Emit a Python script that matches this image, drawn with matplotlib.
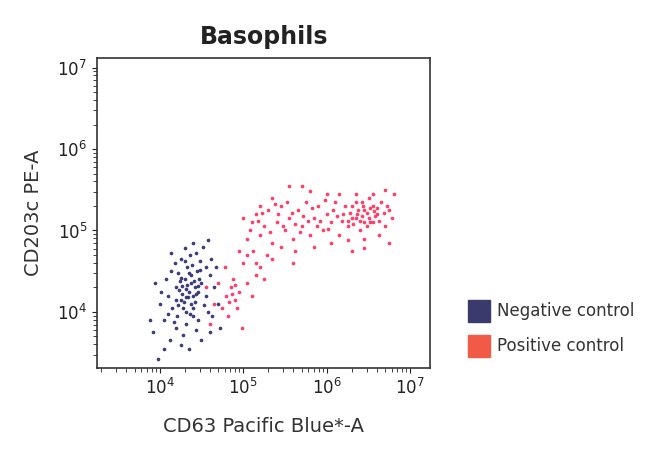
import numpy as np
import matplotlib
matplotlib.use("Agg")
import matplotlib.pyplot as plt
from matplotlib.patches import Rectangle

# log10 values (x = CD63, y = CD203c)
neg_log = [
(4.35,4.25),(4.30,4.40),(4.42,4.30),(4.25,4.15),(4.38,4.10),(4.50,4.35),(4.20,4.30),(4.45,4.50),(4.33,4.55),(4.28,4.05),
(4.40,3.95),(4.15,4.05),(4.10,4.20),(4.55,4.20),(4.60,4.45),(4.48,4.62),(4.36,4.70),(4.22,4.48),(4.18,4.60),(4.30,4.78),
(4.52,4.80),(4.62,4.65),(4.65,4.30),(4.70,4.10),(4.58,4.00),(4.46,3.90),(4.32,3.85),(4.20,3.80),(4.05,3.90),(4.00,4.10),
(3.95,4.35),(4.08,4.40),(4.12,3.65),(4.25,3.60),(4.35,3.55),(4.05,3.55),(3.92,3.75),(4.50,3.65),(4.60,3.75),(3.98,3.42),
(4.40,4.20),(4.42,4.12),(4.27,4.22),(4.33,4.33),(4.37,4.45),(4.24,4.38),(4.47,4.40),(4.31,4.00),(4.39,4.58),(4.26,4.65),
(4.44,4.72),(4.56,4.55),(4.14,4.50),(4.10,3.98),(4.53,4.08),(4.29,4.12),(4.34,4.18),(4.41,4.38),(4.21,3.95),(4.17,3.88),
(4.63,3.95),(4.68,4.55),(4.72,3.80),(3.88,3.90),(4.02,4.25),(4.46,4.25),(4.23,4.27),(4.36,3.98),(4.19,4.15),(4.48,4.52),
(4.30,4.62),(4.14,4.72),(4.58,4.88),(4.40,4.85),(4.28,3.72),(4.44,3.78),
(4.32,4.28),(4.38,4.36),(4.27,4.32),(4.43,4.22),(4.35,4.48),(4.25,4.42),(4.31,4.18),(4.40,4.05),(4.22,4.08),(4.46,4.32),
]
pos_log = [
(4.80,4.20),(4.85,4.30),(4.90,4.15),(4.75,4.05),(4.88,4.40),(4.95,4.25),(4.70,4.35),(4.82,3.95),(4.65,4.10),(4.92,4.05),
(5.05,4.35),(5.10,4.20),(5.15,4.45),(4.78,4.55),(4.60,3.85),(4.55,4.30),(4.98,3.80),(5.20,4.55),(5.25,4.40),(5.00,4.60),
(5.05,4.90),(5.10,5.10),(5.15,5.20),(5.20,4.95),(5.25,5.05),(5.30,5.25),(5.35,4.85),(5.40,5.10),(5.45,5.30),(5.50,5.00),
(5.55,5.15),(5.60,4.90),(5.65,5.25),(5.70,5.05),(5.75,5.35),(5.80,4.95),(5.85,5.15),(5.90,5.30),(5.95,5.00),(6.00,5.20),
(6.05,5.10),(6.10,5.35),(6.15,4.95),(6.20,5.20),(6.25,5.05),(6.30,5.30),(6.35,5.15),(6.40,5.00),(6.45,5.25),(6.50,5.40),
(6.55,5.10),(6.60,5.20),(6.65,5.35),(6.70,5.05),(6.75,5.25),(6.80,5.45),(6.70,5.50),(6.55,5.45),(6.35,5.45),(6.15,5.45),
(5.80,5.48),(5.55,5.55),(5.35,5.40),(5.20,5.30),(5.00,5.15),(5.12,4.75),(5.28,4.70),(5.45,4.80),(5.62,4.75),(5.85,4.80),
(6.05,4.85),(6.25,4.88),(6.45,4.90),(6.62,4.95),(5.08,5.00),(5.18,5.12),(5.32,4.98),(5.42,5.20),(5.52,5.35),(5.62,5.08),
(5.72,5.18),(5.82,5.28),(5.92,5.12),(6.02,5.02),(6.12,5.18),(6.22,5.30),(6.32,5.08),(6.42,5.18),(6.52,5.28),(6.62,5.12),
(6.72,5.30),(6.42,5.35),(6.28,5.22),(6.18,5.12),(6.08,5.25),(5.98,5.38),(5.88,5.05),(5.78,5.12),(5.68,4.98),(5.58,5.22),
(5.48,5.05),(5.38,5.32),(5.22,5.22),(6.48,5.05),(6.38,5.25),(6.58,5.18),(6.68,5.22),(6.78,5.15),(6.50,5.15),(6.40,5.12),
(6.30,5.15),(6.45,5.10),(6.55,5.30),(6.35,5.35),(5.05,4.70),(5.15,4.60),(5.35,4.65),(4.95,4.75),(5.60,4.60),(6.30,4.75),
(6.75,4.85),(6.45,4.78),(5.70,5.55),(6.00,5.45),
(4.87,4.22),(4.83,4.12),(4.90,4.33),(6.48,5.22),(6.52,5.10),(6.36,5.20),(6.60,5.28),(6.44,5.30),(6.26,5.12),(6.56,5.24),
]
legend_labels = ["Negative control", "Positive control"]
scatter_colors = ["#26286e", "#ff2a55"]
legend_colors = ["#3a3b6c", "#f25a48"]

fig = plt.figure(figsize=(6.6, 4.59), dpi=100)
ax = fig.add_axes([0.147, 0.198, 0.505, 0.676])
for data, c in zip([neg_log, pos_log], scatter_colors):
    a = np.array(data)
    ax.scatter(10**a[:, 0], 10**a[:, 1], s=7, c=c, linewidths=0, alpha=0.9)
ax.set_xscale("log"); ax.set_yscale("log")
ax.set_xlim(10**3.25, 10**7.24)
ax.set_ylim(10**3.31, 10**7.12)
ax.set_xticks([1e4, 1e5, 1e6, 1e7]); ax.set_yticks([1e4, 1e5, 1e6, 1e7])
ax.tick_params(which="both", direction="out", labelsize=12, colors="#222222")
ax.tick_params(which="minor", length=3)
for s in ax.spines.values():
    s.set_color("#333333"); s.set_linewidth(1.2)
ax.set_xlabel("CD63 Pacific Blue*-A", fontsize=14, color="#333333", labelpad=14)
ax.set_ylabel("CD203c PE-A", fontsize=14, color="#333333", labelpad=10)
ax.set_title("Basophils", fontsize=17, fontweight="bold", color="#222222", pad=10)

for i, (lab, c) in enumerate(zip(legend_labels, legend_colors)):
    y = 0.298 - i * 0.076
    fig.patches.append(Rectangle((0.709, y), 0.033, 0.048, transform=fig.transFigure, color=c))
    fig.text(0.753, y + 0.024, lab, fontsize=12, va="center", color="#333333")

fig.savefig("out.png", dpi=100)
